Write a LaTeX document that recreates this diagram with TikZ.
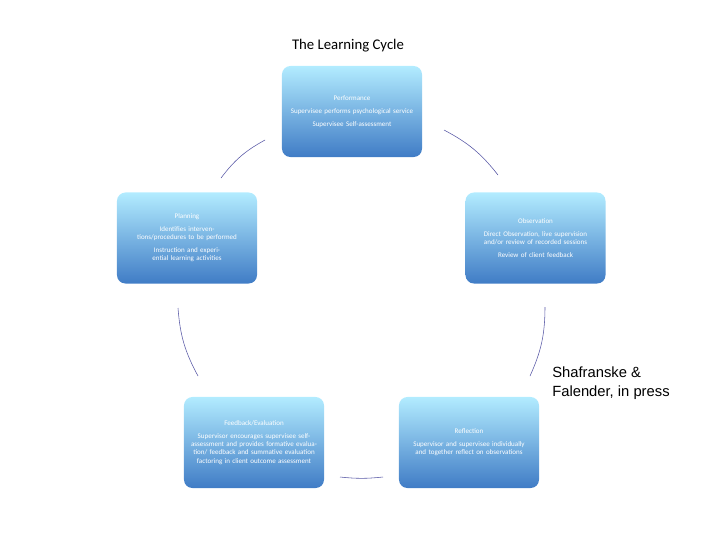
\documentclass[tikz,border=0pt]{standalone}
\usepackage{fontspec}
\setmainfont{Carlito}
\newfontfamily\citefont{Liberation Sans}
\begin{document}
\begin{tikzpicture}[x=0.025cm,y=-0.025cm,
  stage/.style={rounded corners=6pt,top color=blue!25!cyan!30!white,bottom color=blue!55!cyan!70!black!75,
    draw=none,minimum width=3.5cm,minimum height=2.275cm,text width=3.2cm,align=center,
    text=white,font=\fontsize{5}{6}\selectfont,inner sep=1pt},
  arc/.style={draw=blue!30!gray,line width=0.4pt}]
\useasboundingbox (0,0) rectangle (720,540);
\node at (348,46) {\fontsize{10.5}{12}\selectfont The Learning Cycle};
\node[stage] (perf) at (352,111.5) {Performance\\[3pt]Supervisee performs psychological service\\[3pt]Supervisee Self-assessment\\[10pt]};
\node[stage] (plan) at (187,238) {Planning\\[3pt]Identifies interventions/procedures to be performed\\[3pt]Instruction and experiential learning activities\\[4pt]};
\node[stage] (obs) at (535.5,238) {Observation\\[3pt]Direct Observation, live supervision and/or review of recorded sessions\\[3pt]Review of client feedback\\[2pt]};
\node[stage] (feed) at (254,442.5) {Feedback/Evaluation\\[3pt]Supervisor encourages supervisee self-assessment and provides formative evaluation/ feedback and summative evaluation factoring in client outcome assessment\\[6pt]};
\node[stage] (refl) at (469,442.5) {Reflection\\[3pt]Supervisor and supervisee individually and together reflect on observations};
\node[anchor=north west,align=left,font=\citefont\fontsize{10.5}{13}\selectfont,inner sep=0pt] (cite) at (552,367) {Shafranske \&\\Falender, in press};
\coordinate (a1) at (221,178); \coordinate (a2) at (265,140);
\coordinate (b1) at (444,130); \coordinate (b2) at (498,175);
\coordinate (c1) at (545,307); \coordinate (c2) at (530,376);
\coordinate (d1) at (178,308); \coordinate (d2) at (198,376);
\coordinate (e1) at (340,477); \coordinate (e2) at (383,477);
\draw[arc] (a1) to[bend left=12] (a2);
\draw[arc] (b1) to[bend left=12] (b2);
\draw[arc] (c1) to[bend left=12] (c2);
\draw[arc] (d2) to[bend left=12] (d1);
\draw[arc] (e2) to[bend left=6] (e1);
\end{tikzpicture}
\end{document}
